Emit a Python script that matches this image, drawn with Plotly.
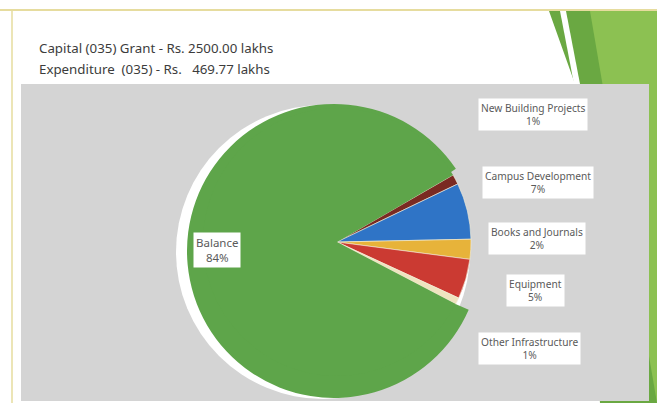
import plotly.graph_objects as go

W, H = 657, 403

# ---- data ----
categories = ["New Building Projects", "Campus Development", "Books and Journals",
              "Equipment", "Other Infrastructure", "Balance"]
shares = [1.2, 6.8, 2.4, 4.8, 0.8, 84.0]
slice_colors = ["#7a2a22", "#2f74c6", "#e7b33a", "#cb3a32", "#efe4bf", "#5ea54a"]
title_lines = ["Capital (035) Grant - Rs. 2500.00 lakhs",
               "Expenditure\u00a0\u00a0(035) - Rs.\u00a0\u00a0\u00a0469.77 lakhs"]

# label box centres (pixels) -- layout only
label_pos = [(533, 114), (538, 183), (537, 238), (535, 290), (529, 348), (217, 250)]

def px(x):
    return x / W

def py(y):
    return 1 - y / H

def dom(cx, cy, r):
    return dict(x=[px(cx - r), px(cx + r)], y=[py(cy + r), py(cy - r)])

TRANSPARENT = "rgba(0,0,0,0)"
is_bal = [c == "Balance" for c in categories]

fig = go.Figure()
# white shadow disc behind the pie
fig.add_trace(go.Pie(values=[1], marker=dict(colors=["#ffffff"]), textinfo="none",
                     hoverinfo="skip", showlegend=False, sort=False,
                     domain=dom(323, 252, 147)))
# outer part of the "Balance" slice
fig.add_trace(go.Pie(labels=categories, values=shares, sort=False, direction="clockwise",
                     rotation=56, textinfo="none", showlegend=False, hoverinfo="skip",
                     marker=dict(colors=[col if b else TRANSPARENT for col, b in zip(slice_colors, is_bal)],
                                 line=dict(width=0)),
                     domain=dom(334, 251, 147)))
# all slices
fig.add_trace(go.Pie(labels=categories, values=shares, sort=False, direction="clockwise",
                     rotation=60, textinfo="none", showlegend=False,
                     marker=dict(colors=slice_colors,
                                 line=dict(color="#f3eed8", width=[0 if b else 0.6 for b in is_bal])),
                     domain=dom(337, 242, 134)))

total = sum(shares)
annotations = []
for name, v, (lx, ly) in zip(categories, shares, label_pos):
    annotations.append(dict(
        x=px(lx), y=py(ly), xref="paper", yref="paper", xanchor="center", yanchor="middle",
        text=f"{name}<br>{round(100 * v / total)}%", showarrow=False,
        font=dict(family="Noto Sans", size=11.5 if name == "Balance" else 10.2, color="#5a5a5a"),
        bgcolor="#ffffff", borderpad=2, align="center"))

for i, t in enumerate(title_lines):
    annotations.append(dict(x=px(37), y=py(48 + 21 * i), xref="paper", yref="paper",
                            xanchor="left", yanchor="middle", text=t, showarrow=False,
                            font=dict(family="Noto Sans", size=13.3, color="#3c3c3c")))

shapes = [
    # green decoration top-right
    dict(type="path", xref="paper", yref="paper",
         path=f"M {px(549)},{py(11)} L {px(657)},{py(11)} L {px(657)},{py(403)} L {px(600)},{py(403)} L {px(575)},{py(84)} Z",
         fillcolor="#6aa842", line=dict(width=0), layer="below"),
    dict(type="path", xref="paper", yref="paper",
         path=f"M {px(590)},{py(11)} L {px(657)},{py(11)} L {px(657)},{py(403)} Z",
         fillcolor="#8cc152", line=dict(width=0), layer="below"),
    dict(type="path", xref="paper", yref="paper",
         path=f"M {px(560)},{py(11)} L {px(566)},{py(11)} L {px(580)},{py(84)} L {px(574)},{py(84)} Z",
         fillcolor="#ffffff", line=dict(width=0), layer="below"),
    # top and left thin borders
    dict(type="line", xref="paper", yref="paper", x0=0, x1=1, y0=py(10), y1=py(10),
         line=dict(color="#e6dc9e", width=2), layer="below"),
    dict(type="line", xref="paper", yref="paper", x0=px(12), x1=px(12), y0=py(10), y1=0,
         line=dict(color="#e6dc9e", width=1.5), layer="below"),
    # grey chart area
    dict(type="rect", xref="paper", yref="paper", x0=px(21), x1=px(649), y0=py(401), y1=py(84),
         fillcolor="#d4d4d4", line=dict(width=0), layer="below"),
]

fig.update_layout(width=W, height=H, margin=dict(l=0, r=0, t=0, b=0),
                  paper_bgcolor="#ffffff", plot_bgcolor="#ffffff",
                  annotations=annotations, shapes=shapes, showlegend=False)

fig.write_html("out.html", config={"displayModeBar": False},
               post_script="document.body.style.margin='0';document.body.style.padding='0';"
                           "document.body.style.overflow='hidden';")
